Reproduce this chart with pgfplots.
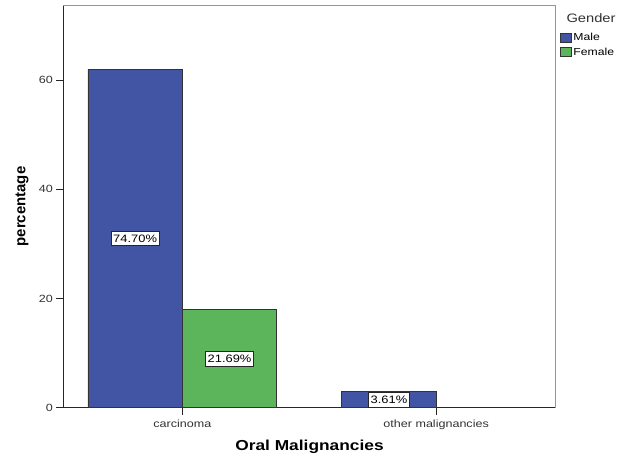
\documentclass[border=0pt]{standalone}
\usepackage{fontspec}
\setmainfont{Liberation Sans}[FakeStretch=1.2]
\newfontfamily\plainfont{Liberation Sans}
\usepackage{pgfplots}
\pgfplotsset{compat=1.18}

\definecolor{maleblue}{RGB}{66,85,165}
\definecolor{femalegreen}{RGB}{92,181,90}
\definecolor{framegray}{RGB}{150,150,150}
\definecolor{textgray}{RGB}{50,50,50}

\begin{document}
\begin{tikzpicture}
\useasboundingbox (0,0) rectangle (628bp,454bp);
\begin{axis}[
  at={(63.3bp,46.3bp)}, anchor=south west,
  scale only axis, width=492.4bp, height=402.4bp,
  xmin=-0.469, xmax=1.471, ymin=0, ymax=73.7,
  axis x line*=bottom, axis y line*=left,
  axis line style={-, black!85, line width=0.9bp},
  clip=false,
  tick align=outside, major tick length=7bp,
  tick style={black!85, line width=0.8bp},
  xtick={0,1}, xticklabels={carcinoma, other malignancies},
  ytick={0,20,40,60},
  /pgf/number format/assume math mode=true,
  tick label style={font=\fontsize{10.5}{12}\selectfont, text=textgray},
  xticklabel style={anchor=base, yshift=-13bp},
  xlabel={Oral Malignancies},
  xlabel style={at={(rel axis cs:0.5,0)}, anchor=base, yshift=-43bp,
    font=\fontsize{14.5}{16}\selectfont\bfseries},
  ylabel={percentage},
  ylabel style={at={(rel axis cs:0,0.5)}, anchor=center, yshift=41.3bp,
    font=\plainfont\fontsize{15}{17}\selectfont\bfseries},
  ybar, bar shift=0pt, bar width=0.372,
  legend style={draw=none, fill=none, at={(rel axis cs:1,1)}, anchor=north west,
    xshift=4bp, yshift=-26bp, inner sep=0pt, row sep=1.5bp,
    font=\fontsize{10.2}{11}\selectfont, /tikz/every even column/.append style={column sep=1bp}},
  legend cell align=left,
  legend image code/.code={\draw[#1, draw=black!80, line width=0.6bp] (0bp,-4.5bp) rectangle (11bp,4.5bp);},
]
% Male counts per category
\addplot[fill=maleblue, draw=black!80, line width=0.8bp] coordinates {(-0.186,62) (0.814,3)};
\addlegendentry{Male}
% Female counts per category
\addplot[fill=femalegreen, draw=black!80, line width=0.8bp] coordinates {(0.186,18)};
\addlegendentry{Female}

% percentage labels at mid-height of each bar
\addplot[draw=none, mark=none, forget plot,
  nodes near coords, point meta=explicit symbolic,
  every node near coord/.style={anchor=center, fill=white, draw=black!85,
    line width=0.7bp, inner xsep=2.2bp, inner ysep=3.6bp, text=black,
    font=\fontsize{10.8}{12}\selectfont}]
  coordinates {(-0.186,31) [74.70\%] (0.186,9) [21.69\%] (0.814,1.5) [3.61\%]};

\draw[framegray, line width=0.9bp] (rel axis cs:0,1) -- (rel axis cs:1,1) -- (rel axis cs:1,0);
\node[anchor=base west, xshift=7.3bp, yshift=-17bp, text=textgray,
  font=\fontsize{12.3}{14}\selectfont] at (rel axis cs:1,1) {Gender};
\end{axis}
\end{tikzpicture}
\end{document}
